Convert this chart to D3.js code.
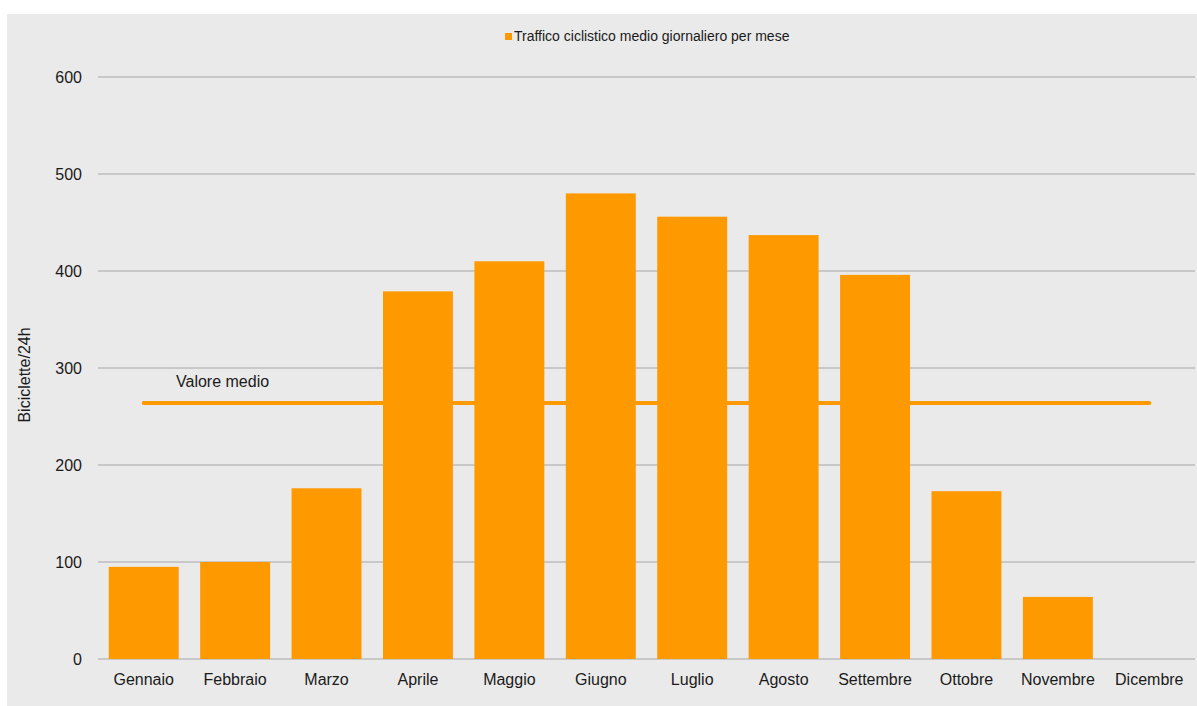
<!DOCTYPE html>
<html><head><meta charset="utf-8">
<script src="https://cdn.jsdelivr.net/npm/d3@7"></script>
<style>body{margin:0;background:#fff}svg{display:block}text{font-family:"Liberation Sans",Arial,sans-serif;fill:#1a1a1a}</style>
</head><body>
<svg id="c" width="1197" height="706"></svg>
<script>
const categories = ["Gennaio","Febbraio","Marzo","Aprile","Maggio","Giugno","Luglio","Agosto","Settembre","Ottobre","Novembre","Dicembre"];
const values = [95,100,176,379,410,480,456,437,396,173,64,null];
const meanValue = [264];
const yTicks = [0,100,200,300,400,500,600];
const seriesName = "Traffico ciclistico medio giornaliero per mese";
const meanLabel = "Valore medio";
const yTitle = "Biciclette/24h";

const svg = d3.select("#c");
svg.append("rect").attr("x",7).attr("y",14).attr("width",1190).attr("height",692).attr("fill","#eaeaea");

const m = {l:98, r:1195, t:77, b:659};
const x = d3.scaleBand().domain(categories).range([m.l,m.r]).paddingInner(0.235).paddingOuter(0.1175);
const y = d3.scaleLinear().domain([0,600]).range([m.b,m.t]);

// grid
svg.append("g").selectAll("line").data(yTicks).join("line")
  .attr("x1",m.l).attr("x2",m.r).attr("y1",d=>y(d)).attr("y2",d=>y(d))
  .attr("stroke","#a6a6a6").attr("stroke-width",1.2);

// y tick labels
svg.append("g").selectAll("text").data(yTicks).join("text")
  .attr("x",82).attr("y",d=>y(d)).attr("dy","0.35em").attr("text-anchor","end")
  .style("font-size","16px").text(d=>d);

// bars
svg.append("g").selectAll("rect").data(categories.map((c,i)=>({c,v:values[i]})).filter(d=>d.v!=null)).join("rect")
  .attr("x",d=>x(d.c)).attr("width",x.bandwidth())
  .attr("y",d=>y(d.v)).attr("height",d=>y(0)-y(d.v)).attr("fill","#ff9900");

// x labels
svg.append("g").selectAll("text").data(categories).join("text")
  .attr("x",d=>x(d)+x.bandwidth()/2).attr("y",685).attr("text-anchor","middle")
  .style("font-size","16px").text(d=>d);

// mean line
const x0 = x(categories[0])+x.bandwidth()/2, x1 = x(categories[categories.length-1])+x.bandwidth()/2;
svg.append("line").attr("x1",x0).attr("x2",x1).attr("y1",y(meanValue[0])).attr("y2",y(meanValue[0]))
  .attr("stroke","#ff9900").attr("stroke-width",4).attr("stroke-linecap","round");
svg.append("text").attr("x",176).attr("y",387).style("font-size","16px").text(meanLabel);

// legend
svg.append("rect").attr("x",505).attr("y",33).attr("width",7).attr("height",7).attr("fill","#ff9900");
svg.append("text").attr("x",514).attr("y",41).style("font-size","14px").text(seriesName);

// y title
svg.append("text").attr("transform","translate(30,375) rotate(-90)").attr("text-anchor","middle")
  .style("font-size","16px").text(yTitle);
</script>
</body></html>
